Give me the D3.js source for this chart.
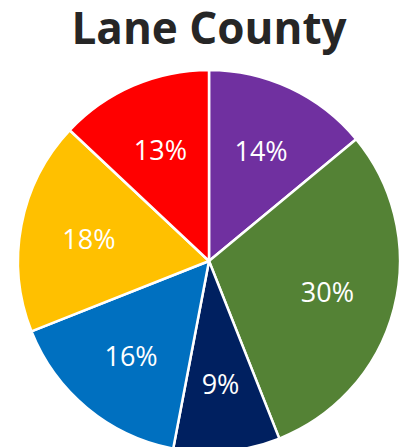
<!DOCTYPE html>
<html>
<head>
<meta charset="utf-8">
<script src="https://cdn.jsdelivr.net/npm/d3@7"></script>
<style>
	html, body { margin: 0; padding: 0; background: #fff; }
	svg { display: block; }
</style>
</head>
<body>
<script>
// slices go clockwise from 12 o'clock
const categories = ['A', 'B', 'C', 'D', 'E', 'F'];
const values = [14, 30, 9, 16, 18, 13];
const colors = ['#7030A0', '#548235', '#002060', '#0070C0', '#FFC000', '#FF0000'];
const title = 'Lane County';

const width = 412;
const height = 447;
const cx = 209;
const cy = 261;
const radius = 191;

const svg = d3
	.select('body')
	.append('svg')
	.attr('width', width)
	.attr('height', height);

svg
	.append('text')
	.attr('x', 209)
	.attr('y', 44)
	.attr('text-anchor', 'middle')
	.style('font-family', '"Open Sans", sans-serif')
	.style('font-weight', 700)
	.style('font-size', '44px')
	.style('fill', '#262626')
	.text(title);

const data = categories.map((c, i) => ({ cat: c, value: values[i], color: colors[i] }));

const pie = d3.pie().sort(null).value((d) => d.value);
const arc = d3.arc().innerRadius(0).outerRadius(radius);
const labelArc = d3.arc().innerRadius(radius * 0.64).outerRadius(radius * 0.64);

const g = svg.append('g').attr('transform', `translate(${cx},${cy})`);
const arcs = pie(data);

g.selectAll('path')
	.data(arcs)
	.join('path')
	.attr('d', arc)
	.style('fill', (d) => d.data.color)
	.style('stroke', '#fff')
	.style('stroke-width', 2.5)
	.style('stroke-linejoin', 'round');

g.selectAll('text')
	.data(arcs)
	.join('text')
	.attr('transform', (d) => `translate(${labelArc.centroid(d)})`)
	.attr('text-anchor', 'middle')
	.attr('dy', '0.4em')
	.style('font-family', '"Open Sans", sans-serif')
	.style('font-size', '27px')
	.style('fill', '#fff')
	.text((d) => d.data.value + '%');
</script>
</body>
</html>
